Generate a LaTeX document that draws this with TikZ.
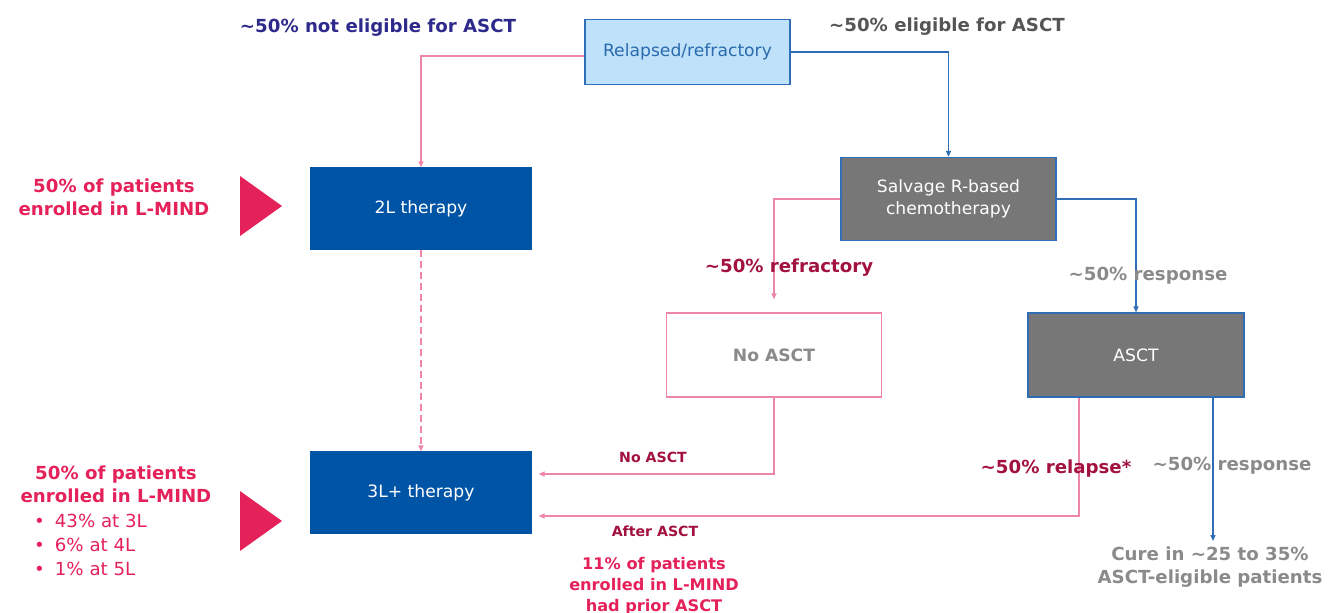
\documentclass[tikz,border=0pt]{standalone}
\usepackage{fontspec}
\setmainfont{DejaVu Sans}[FakeStretch=1.01]
\usetikzlibrary{arrows.meta}
\definecolor{navy}{HTML}{2E2A8C}
\definecolor{lightblue}{HTML}{BFE2FA}
\definecolor{boxblue}{HTML}{0054A6}
\definecolor{edgeblue}{HTML}{2F6EB5}
\definecolor{boxgray}{HTML}{777777}
\definecolor{pinkline}{HTML}{EE86A8}
\definecolor{hotpink}{HTML}{E5215A}
\definecolor{crimson}{HTML}{A3123F}
\definecolor{txtgray}{HTML}{8A8A8A}
\definecolor{darkgray}{HTML}{555555}
\definecolor{reltext}{HTML}{2A6AAE}
\tikzset{
  box/.style={draw, line width=1.3pt, align=center, inner sep=0pt, font=\fontsize{17}{22}\selectfont},
  pk/.style={draw=pinkline, line width=1.3pt, -{Triangle[length=6pt,width=5pt]}},
  bl/.style={draw=edgeblue, line width=1.3pt, -{Triangle[length=6pt,width=5pt]}},
  lbl/.style={font=\fontsize{18}{23}\selectfont\bfseries, align=center, inner sep=0pt},
  small/.style={font=\fontsize{14}{17}\selectfont\bfseries, align=center, inner sep=0pt},
}
\begin{document}
\begin{tikzpicture}[x=1pt,y=-1pt]
\useasboundingbox[fill=white] (0,0) rectangle (1336,613);
% boxes
\node[box, fill=lightblue, draw=edgeblue, text=reltext, minimum width=205pt, minimum height=65pt] (rel) at (687.5,52) {Relapsed/refractory};
\node[box, fill=boxblue, draw=boxblue, text=white, minimum width=220pt, minimum height=81pt] (l2) at (421,208.5) {2L therapy};
\node[box, fill=boxgray, draw=edgeblue, text=white, minimum width=215pt, minimum height=83pt] (salv) at (948.5,199) {Salvage R-based\\chemotherapy};
\node[box, fill=white, draw=pinkline, text=txtgray, font=\fontsize{17}{21}\selectfont\bfseries, minimum width=215pt, minimum height=84pt] (noasct) at (774,355) {No ASCT};
\node[box, fill=boxgray, draw=edgeblue, text=white, minimum width=216pt, minimum height=84pt] (asct) at (1136,355) {ASCT};
\node[box, fill=boxblue, draw=boxblue, text=white, minimum width=220pt, minimum height=81pt] (l3) at (421,492.5) {3L+ therapy};
% connectors
\draw[pk] ([yshift=-4pt]rel.west) -| (l2.north);
\draw[bl] (rel.east) -| (salv.north);
\draw[pk] (salv.west) -| ([yshift=13pt]noasct.north);
\draw[bl] (salv.east) -| (asct.north);
\draw[pk, dash pattern=on 7pt off 4pt] (l2.south) -- (l3.north);
\draw[pk] (noasct.south) |- ([xshift=7pt,yshift=18.5pt]l3.east);
\draw[pk] ([xshift=-57pt]asct.south) |- ([xshift=7pt,yshift=-23.5pt]l3.east);
\coordinate (curetop) at (1213,541);
\draw[bl] (asct.south -| curetop) -- (curetop);
% triangles
\fill[hotpink] (240,176) -- (282,206) -- (240,236) -- cycle;
\fill[hotpink] (240,491) -- (282,521) -- (240,551) -- cycle;
% labels
\node[lbl, text=navy] (t1) at (378,28) {\textasciitilde50\% not eligible for ASCT};
\node[lbl, text=darkgray] (t2) at (947,27) {\textasciitilde50\% eligible for ASCT};
\node[lbl, text=crimson] (t3) at (789,268) {\textasciitilde50\% refractory};
\node[lbl, text=txtgray] (t4) at (1148,276) {\textasciitilde50\% response};
\node[lbl, text=crimson] (t5) at (1056,469) {\textasciitilde50\% relapse*};
\node[lbl, text=txtgray] (t6) at (1232,466) {\textasciitilde50\% response};
\node[lbl, text=txtgray] (t7) at (1210,567) {Cure in \textasciitilde25 to 35\%\\ASCT-eligible patients};
\node[small, text=crimson] (t8) at (653,457) {No ASCT};
\node[small, text=crimson] (t9) at (655,531) {After ASCT};
\node[lbl, text=hotpink, font=\fontsize{16}{21}\selectfont\bfseries] (t10) at (654,586) {11\% of patients\\enrolled in L-MIND\\had prior ASCT};
\node[lbl, text=hotpink] (t11) at (114,197) {50\% of patients\\enrolled in L-MIND};
\node[lbl, text=hotpink] (t12) at (116,484) {50\% of patients\\enrolled in L-MIND};
\node[font=\fontsize{18}{24}\selectfont, text=hotpink, anchor=west, inner sep=0pt, align=left] (t13) at (34,545) {\textbullet\hspace{10pt}43\% at 3L\\\textbullet\hspace{10pt}6\% at 4L\\\textbullet\hspace{10pt}1\% at 5L};
\end{tikzpicture}
\end{document}
